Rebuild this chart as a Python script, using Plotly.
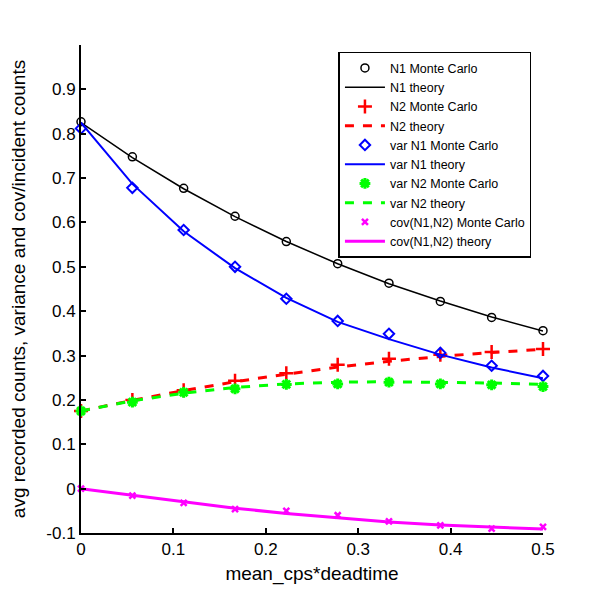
import plotly.graph_objects as go

x = [0.0, 0.0556, 0.1111, 0.1667, 0.2222, 0.2778, 0.3333, 0.3889, 0.4444, 0.5]

n1_mc = [0.827, 0.748, 0.677, 0.614, 0.557, 0.507, 0.463, 0.422, 0.386, 0.356]
n1_th = [0.825, 0.746, 0.676, 0.613, 0.557, 0.507, 0.462, 0.423, 0.387, 0.355]
n2_mc = [0.175, 0.200, 0.222, 0.243, 0.260, 0.279, 0.293, 0.302, 0.308, 0.315]
n2_th = [0.175, 0.199, 0.221, 0.241, 0.258, 0.274, 0.287, 0.298, 0.307, 0.314]
v1_mc = [0.812, 0.678, 0.583, 0.500, 0.428, 0.378, 0.349, 0.306, 0.277, 0.254]
v1_th = [0.825, 0.687, 0.580, 0.497, 0.430, 0.376, 0.337, 0.302, 0.273, 0.249]
v2_mc = [0.175, 0.195, 0.217, 0.225, 0.235, 0.236, 0.240, 0.236, 0.234, 0.230]
v2_th = [0.175, 0.198, 0.215, 0.228, 0.236, 0.240, 0.241, 0.240, 0.238, 0.235]
cv_mc = [0.0, -0.016, -0.032, -0.046, -0.050, -0.060, -0.074, -0.083, -0.090, -0.086]
cv_th = [0.0, -0.015, -0.030, -0.044, -0.056, -0.066, -0.075, -0.082, -0.087, -0.091]

FONT = "Liberation Sans, Arial"

fig = go.Figure()

def mc(y, name, color, symbol, size, lw):
    fig.add_trace(go.Scatter(x=x, y=y, mode="markers", name=name, cliponaxis=False,
                             marker=dict(symbol=symbol, size=size, color=color,
                                         line=dict(color=color, width=lw))))

def th(y, name, color, dash, width):
    fig.add_trace(go.Scatter(x=x, y=y, mode="lines", name=name, cliponaxis=False,
                             line=dict(color=color, dash=dash, width=width)))

mc(n1_mc, "N1 Monte Carlo", "black", "circle-open", 8, 1.5)
th(n1_th, "N1 theory", "black", "solid", 1.5)
mc(n2_mc, "N2 Monte Carlo", "red", "cross-thin-open", 10, 2.5)
th(n2_th, "N2 theory", "red", "dash", 3)
mc(v1_mc, "var N1 Monte Carlo", "blue", "diamond-open", 8, 2)
th(v1_th, "var N1 theory", "blue", "solid", 2)
mc(v2_mc, "var N2 Monte Carlo", "#00ff00", "asterisk-open", 9, 3)
th(v2_th, "var N2 theory", "#00ff00", "dash", 3)
mc(cv_mc, "cov(N1,N2) Monte Carlo", "magenta", "x-thin-open", 6, 2.5)
th(cv_th, "cov(N1,N2) theory", "magenta", "solid", 3)

axis_common = dict(showline=True, linecolor="black", linewidth=2, mirror=False,
                   ticks="inside", ticklen=5, tickwidth=1.5, tickcolor="black",
                   showgrid=False, zeroline=False, automargin=False,
                   tickfont=dict(family=FONT, size=17, color="black"),
                   title_font=dict(family=FONT, size=19, color="black"))

fig.update_xaxes(range=[0, 0.5], tickvals=[0, 0.1, 0.2, 0.3, 0.4, 0.5],
                 ticktext=["0", "0.1", "0.2", "0.3", "0.4", "0.5"],
                 title_text="mean_cps*deadtime", title_standoff=8, **axis_common)
fig.update_yaxes(range=[-0.1, 1.0], tickvals=[-0.1, 0, 0.1, 0.2, 0.3, 0.4, 0.5, 0.6, 0.7, 0.8, 0.9],
                 ticktext=["-0.1", "0", "0.1", "0.2", "0.3", "0.4", "0.5", "0.6", "0.7", "0.8", "0.9"],
                 title_text="avg recorded counts, variance and cov/incident counts",
                 title_standoff=18, **axis_common)

fig.update_layout(
    width=600, height=600,
    margin=dict(l=73, r=65, t=37, b=75),
    plot_bgcolor="white", paper_bgcolor="white",
    font=dict(family=FONT, color="black"),
    legend=dict(x=0.975, y=0.986, xanchor="right", yanchor="top",
                bgcolor="white", bordercolor="black", borderwidth=1.5,
                font=dict(family=FONT, size=12.5, color="black"),
                tracegroupgap=0, itemwidth=40),
)

fig.write_html("out.html")
